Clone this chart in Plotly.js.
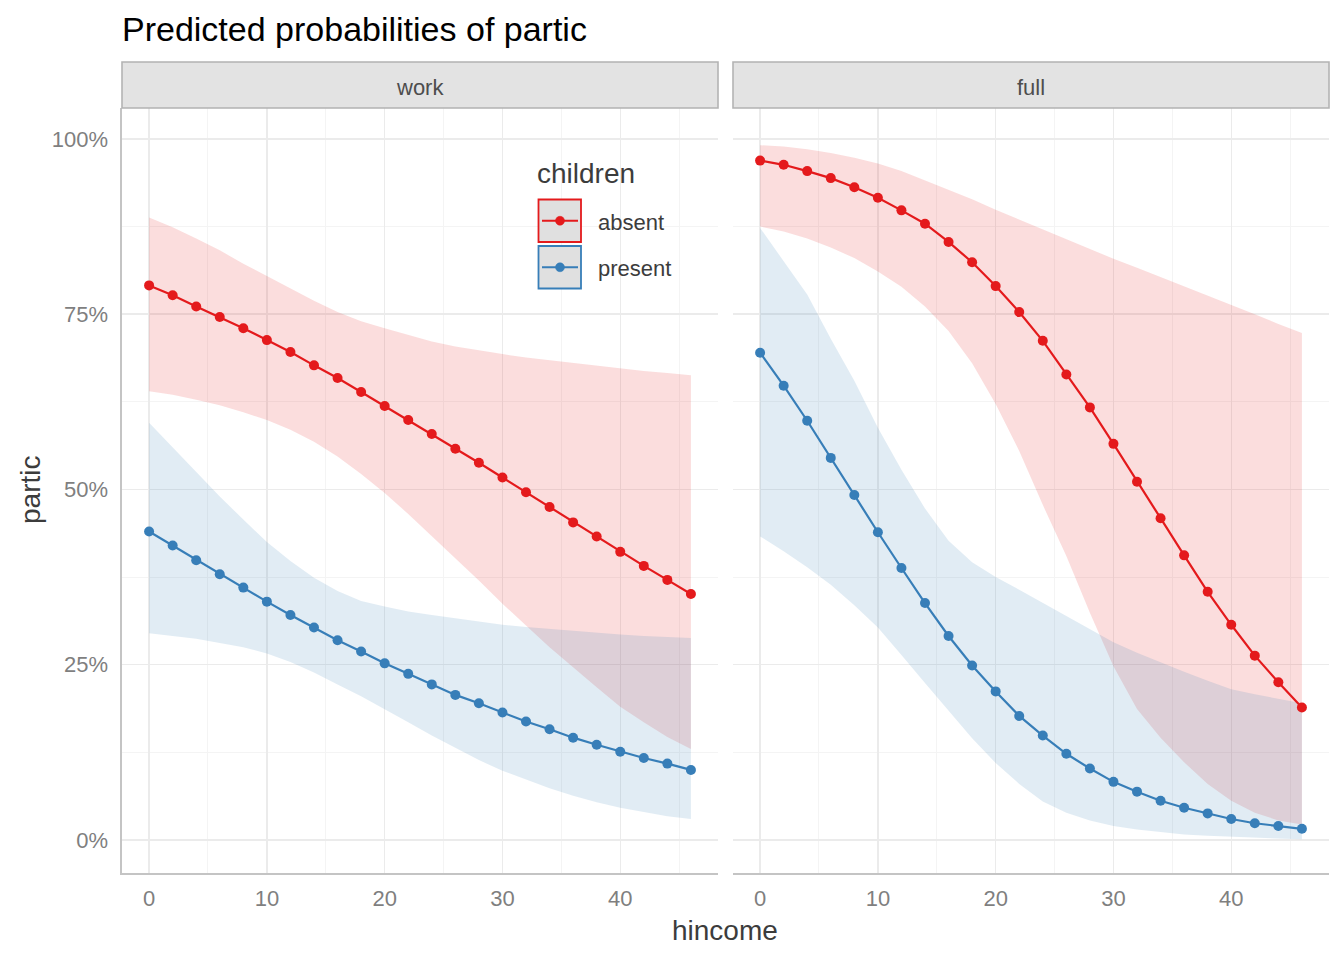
<!DOCTYPE html>
<html>
<head>
<meta charset="utf-8">
<script src="https://cdn.plot.ly/plotly-3.0.1.min.js"></script>
<style>
  html, body { margin: 0; padding: 0; background: #fff; }
  #chart { width: 1344px; height: 960px; }
</style>
</head>
<body>
<div id="chart"></div>
<script>
// x values (household income)
const hincome = [0, 2, 4, 6, 8, 10, 12, 14, 16, 18, 20, 22, 24, 26, 28, 30, 32, 34, 36, 38, 40, 42, 44, 46];

// facet "work" (percent)
const workAbsent    = [79.1, 77.7, 76.1, 74.6, 73.0, 71.3, 69.6, 67.7, 65.9, 63.9, 61.9, 59.9, 57.9, 55.8, 53.8, 51.7, 49.6, 47.5, 45.3, 43.3, 41.1, 39.1, 37.1, 35.1];
const workAbsentLo  = [64.0, 63.5, 62.8, 62.0, 61.0, 59.9, 58.5, 56.8, 54.7, 52.2, 49.5, 46.5, 43.4, 40.2, 37.0, 33.7, 30.6, 27.5, 24.6, 21.8, 19.0, 16.8, 14.7, 13.0];
const workAbsentHi  = [88.8, 87.4, 85.8, 84.1, 82.2, 80.4, 78.6, 76.9, 75.3, 74.0, 73.0, 72.0, 71.1, 70.4, 69.8, 69.3, 68.8, 68.4, 68.0, 67.6, 67.2, 66.9, 66.6, 66.3];
const workPresent   = [44.0, 42.0, 39.9, 37.9, 36.0, 34.0, 32.1, 30.3, 28.5, 26.9, 25.2, 23.7, 22.2, 20.7, 19.5, 18.2, 16.9, 15.8, 14.6, 13.6, 12.6, 11.7, 10.9, 10.0];
const workPresentLo = [29.5, 29.1, 28.7, 28.1, 27.5, 26.6, 25.4, 23.9, 22.2, 20.5, 18.7, 16.8, 14.9, 13.1, 11.4, 9.9, 8.6, 7.4, 6.3, 5.4, 4.6, 4.0, 3.4, 3.0];
const workPresentHi = [59.5, 56.0, 52.5, 49.0, 45.7, 42.5, 39.8, 37.4, 35.5, 34.1, 33.3, 32.6, 32.1, 31.6, 31.1, 30.7, 30.4, 30.1, 29.8, 29.5, 29.3, 29.1, 28.9, 28.8];

// facet "full" (percent)
const fullAbsent    = [96.9, 96.3, 95.4, 94.4, 93.1, 91.6, 89.8, 87.9, 85.3, 82.4, 79.0, 75.3, 71.2, 66.4, 61.7, 56.5, 51.1, 45.9, 40.6, 35.4, 30.7, 26.3, 22.5, 18.9];
const fullAbsentLo  = [87.5, 86.8, 85.8, 84.5, 83.0, 81.1, 78.9, 76.1, 72.6, 68.0, 62.2, 55.5, 47.8, 40.5, 32.4, 24.8, 18.7, 14.6, 11.1, 8.0, 5.6, 3.9, 2.8, 2.2];
const fullAbsentHi  = [99.1, 98.9, 98.5, 98.0, 97.3, 96.5, 95.4, 94.1, 92.8, 91.4, 89.9, 88.5, 87.0, 85.6, 84.2, 82.9, 81.6, 80.3, 79.0, 77.6, 76.3, 75.0, 73.6, 72.3];
const fullPresent   = [69.5, 64.8, 59.8, 54.5, 49.2, 43.9, 38.8, 33.8, 29.1, 24.9, 21.2, 17.7, 14.9, 12.3, 10.2, 8.3, 6.9, 5.6, 4.6, 3.8, 3.0, 2.4, 2.0, 1.6];
const fullPresentLo = [43.3, 41.2, 38.9, 36.4, 33.5, 30.3, 26.4, 22.4, 18.4, 14.5, 11.0, 8.0, 5.5, 3.9, 2.8, 2.0, 1.5, 1.1, 0.8, 0.6, 0.4, 0.3, 0.2, 0.1];
const fullPresentHi = [87.3, 82.5, 77.8, 71.5, 65.5, 58.8, 52.8, 47.3, 42.7, 39.6, 37.5, 35.7, 33.8, 32.0, 30.1, 28.2, 26.7, 25.3, 24.0, 22.7, 21.5, 20.8, 20.1, 19.5];

const facets = ['work', 'full'];
const groups = ['absent', 'present'];
const xTicks = [0, 10, 20, 30, 40];
const xMinor = [5, 15, 25, 35, 45];
const yTicks = [0, 25, 50, 75, 100];
const yTickText = ['0%', '25%', '50%', '75%', '100%'];
const yMinor = [12.5, 37.5, 62.5, 87.5];

const RED = '#E41A1C';
const BLUE = '#377EB8';
const FONT = 'Liberation Sans, Arial, sans-serif';

// plot area in pixels (for paper coords of strips / legend)
const L = 122, R = 1329, T = 108, B = 873;
const px = x => (x - L) / (R - L);
const py = y => (B - y) / (B - T);

function ribbon(lo, hi, color, xa, ya) {
  return {
    x: hincome.concat(hincome.slice().reverse()),
    y: hi.concat(lo.slice().reverse()),
    xaxis: xa, yaxis: ya,
    type: 'scatter', mode: 'lines',
    fill: 'toself', fillcolor: color,
    line: { width: 0 },
    hoverinfo: 'skip', showlegend: false
  };
}

function curve(y, color, xa, ya) {
  return {
    x: hincome, y: y,
    xaxis: xa, yaxis: ya,
    type: 'scatter', mode: 'lines+markers',
    line: { color: color, width: 2.2 },
    marker: { color: color, size: 10 },
    showlegend: false
  };
}

const redFill = 'rgba(228,26,28,0.15)';
const blueFill = 'rgba(55,126,184,0.15)';

const traces = [
  ribbon(workAbsentLo, workAbsentHi, redFill, 'x', 'y'),
  ribbon(workPresentLo, workPresentHi, blueFill, 'x', 'y'),
  ribbon(fullAbsentLo, fullAbsentHi, redFill, 'x2', 'y2'),
  ribbon(fullPresentLo, fullPresentHi, blueFill, 'x2', 'y2'),
  curve(workAbsent, RED, 'x', 'y'),
  curve(workPresent, BLUE, 'x', 'y'),
  curve(fullAbsent, RED, 'x2', 'y2'),
  curve(fullPresent, BLUE, 'x2', 'y2')
];

const split = px(718), split2 = px(733);

const xaxisBase = {
  range: [-2.3, 48.3],
  tickmode: 'array', tickvals: xTicks,
  ticks: 'outside', ticklen: 5, tickcolor: 'rgba(0,0,0,0)',
  tickfont: { family: FONT, size: 22, color: '#7f7f7f' },
  showgrid: true, gridcolor: '#ebebeb', gridwidth: 1.3,
  minor: { tickmode: 'array', tickvals: xMinor, showgrid: true, gridcolor: '#f4f4f4', gridwidth: 1, ticks: '' },
  zeroline: false,
  showline: true, linecolor: '#c4c4c4', linewidth: 1.6,
  fixedrange: true
};

const yaxisBase = {
  range: [-4.7, 104.4],
  tickmode: 'array', tickvals: yTicks, ticktext: yTickText,
  showgrid: true, gridcolor: '#ebebeb', gridwidth: 1.3,
  minor: { tickmode: 'array', tickvals: yMinor, showgrid: true, gridcolor: '#f4f4f4', gridwidth: 1, ticks: '' },
  zeroline: false,
  fixedrange: true
};

// facet strips
const shapes = [];
const annotations = [];
[[0, split], [split2, 1]].forEach(([a, b], i) => {
  shapes.push({
    type: 'rect', xref: 'paper', yref: 'paper',
    x0: a, x1: b, y0: 1, y1: py(62),
    fillcolor: '#e3e3e3', line: { color: '#b3b3b3', width: 1.6 }
  });
  annotations.push({
    xref: 'paper', yref: 'paper', x: (a + b) / 2, y: py(87),
    text: facets[i], showarrow: false,
    xanchor: 'center', yanchor: 'middle',
    font: { family: FONT, size: 22, color: '#4d4d4d' }
  });
});

// legend drawn by hand (ggplot-style keys)
const keyColors = [RED, BLUE];
const keyTop = [199.5, 246];
groups.forEach((g, i) => {
  const y0 = keyTop[i], y1 = y0 + 42.5, yc = (y0 + y1) / 2;
  shapes.push({
    type: 'rect', xref: 'paper', yref: 'paper',
    x0: px(538.5), x1: px(581), y0: py(y1), y1: py(y0),
    fillcolor: '#e0e0e0', line: { color: keyColors[i], width: 1.8 }
  });
  shapes.push({
    type: 'line', xref: 'paper', yref: 'paper',
    x0: px(542), x1: px(578), y0: py(yc), y1: py(yc),
    line: { color: keyColors[i], width: 2.2 }
  });
  shapes.push({
    type: 'circle', xref: 'paper', yref: 'paper',
    x0: px(555.5), x1: px(564.5), y0: py(yc + 4.5), y1: py(yc - 4.5),
    fillcolor: keyColors[i], line: { color: keyColors[i], width: 0.5 }
  });
  annotations.push({
    xref: 'paper', yref: 'paper', x: px(596), y: py(yc + 1.5),
    text: g, showarrow: false, xanchor: 'left', yanchor: 'middle',
    font: { family: FONT, size: 22, color: '#3c3c3c' }
  });
});
annotations.push({
  xref: 'paper', yref: 'paper', x: px(535), y: py(173),
  text: 'children', showarrow: false, xanchor: 'left', yanchor: 'middle',
  font: { family: FONT, size: 28, color: '#3c3c3c' }
});

// axis titles
annotations.push({
  xref: 'paper', yref: 'paper', x: px(725), y: py(930),
  text: 'hincome', showarrow: false, xanchor: 'center', yanchor: 'middle',
  font: { family: FONT, size: 28, color: '#3c3c3c' }
});
annotations.push({
  xref: 'paper', yref: 'paper', x: px(30), y: py(490),
  text: 'partic', showarrow: false, textangle: -90,
  xanchor: 'center', yanchor: 'middle',
  font: { family: FONT, size: 28, color: '#3c3c3c' }
});

const layout = {
  width: 1344, height: 960,
  margin: { l: L, r: 1344 - R, t: T, b: 960 - B, pad: 0 },
  paper_bgcolor: '#ffffff', plot_bgcolor: '#ffffff',
  font: { family: FONT },
  title: {
    text: 'Predicted probabilities of partic',
    xref: 'paper', x: 0, xanchor: 'left',
    yref: 'container', y: 1 - 29 / 960, yanchor: 'middle',
    font: { family: FONT, size: 34, color: '#000000' }
  },
  xaxis: Object.assign({}, xaxisBase, { domain: [0, split], anchor: 'y' }),
  xaxis2: Object.assign({}, xaxisBase, { domain: [split2, 1], anchor: 'y2' }),
  yaxis: Object.assign({}, yaxisBase, {
    anchor: 'x',
    ticks: 'outside', ticklen: 8, tickcolor: 'rgba(0,0,0,0)',
    tickfont: { family: FONT, size: 22, color: '#7f7f7f' },
    showline: true, linecolor: '#c4c4c4', linewidth: 1.6
  }),
  yaxis2: Object.assign({}, yaxisBase, { anchor: 'x2', matches: 'y', showticklabels: false, showline: false }),
  shapes: shapes,
  annotations: annotations,
  showlegend: false
};

Plotly.newPlot('chart', traces, layout, { displayModeBar: false, staticPlot: true });
</script>
</body>
</html>
